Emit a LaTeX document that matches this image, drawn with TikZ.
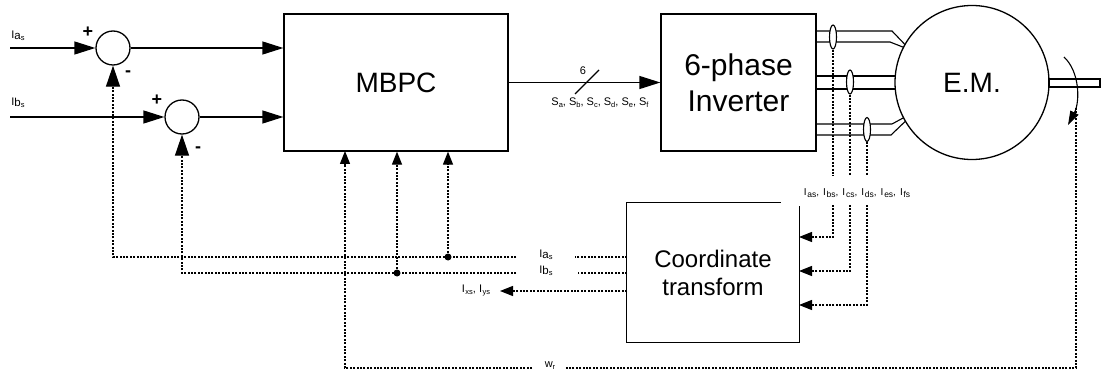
\documentclass[tikz,border=0pt]{standalone}
\usepackage{fontspec}
\setmainfont{Liberation Sans}
\usetikzlibrary{arrows.meta,shapes.geometric}
\newcommand{\subtxt}[1]{\raisebox{-2pt}{\fontsize{7.5}{8}\selectfont #1}}
\newcommand{\csub}[1]{\raisebox{-2pt}{\fontsize{8.5}{9}\selectfont #1}}
\newcommand{\Isub}[1]{I\hspace{0.6pt}\subtxt{#1}}
\newcommand{\Ic}[1]{I\hspace{0.8pt}\csub{#1}}
\newcommand{\Sig}[1]{I\raisebox{-1.5pt}{\fontsize{11.5}{12}\selectfont #1}\raisebox{-2.5pt}{\fontsize{7.5}{8}\selectfont s}}
\newcommand{\sep}{,\hspace{4pt}}
\begin{document}
\begin{tikzpicture}[x=1pt,y=-1pt,
  line width=1.3pt,
  blk/.style={draw, rectangle, inner sep=0pt},
  sumj/.style={draw, circle, minimum size=34pt, inner sep=0pt},
  big/.style={-{Triangle[length=21pt,width=13pt]}},
  sm/.style={-{Triangle[length=13pt,width=10pt]}},
  dotl/.style={dash pattern=on 2pt off 1.4pt, line width=1.2pt},
  lbl/.style={font=\fontsize{11}{13}\selectfont, inner sep=0pt},
  pm/.style={font=\fontsize{18}{18}\selectfont\bfseries, inner sep=0pt},
  junc/.style={circle, fill, inner sep=0pt, minimum size=7pt},
  sens/.style={draw, ellipse, fill=white, inner sep=0pt, minimum width=7pt, minimum height=24pt, line width=1.1pt},
  wire/.style={line width=1.1pt}
]
\useasboundingbox (0,0) rectangle (1102,382);

% blocks
\node[blk, minimum width=224pt, minimum height=137pt, font=\fontsize{28}{32}\selectfont] (mbpc) at (396,82.5) {MBPC};
\node[blk, minimum width=155pt, minimum height=137pt, align=center, font=\fontsize{30}{36}\selectfont] (inv) at (738.5,82.5) {6-phase\\Inverter};
\node[minimum width=172pt, minimum height=139pt, inner sep=0pt, align=center, font=\fontsize{24}{28}\selectfont] (ct) at (713,272.5) {Coordinate\\transform};
\draw ([xshift=-19pt]ct.north east) -- (ct.north west) -- (ct.south west) -- (ct.south east) -- ([yshift=-4pt]ct.north east);

% summing junctions
\node[sumj] (s1) at (113,48) {};
\node[sumj] (s2) at (182,117) {};
\node[pm] (p1) at (88,32) {+};
\node[pm] (m1) at (128,74) {-};
\node[pm] (p2) at (157,100) {+};
\node[pm] (m2) at (198,150) {-};

\coordinate (ina) at (10,48);
\coordinate (inb) at (10,117);
\node[lbl] (la) at (18,36) {\Sig{a}};
\node[lbl] (lb) at (18,103) {\Sig{b}};
\draw[big] (ina) -- (s1);
\draw[big] (inb) -- (s2);
\draw[big] (s1) -- (s1 -| mbpc.west);
\draw[big] (s2) -- (s2 -| mbpc.west);

% MBPC -> inverter
\draw[big] (mbpc.east) -- (inv.west);
\draw[wire] (575,94) -- (599,70);
\node[lbl] (six) at (583,71) {6};
\node[lbl] (slbl) at (600,103) {S\subtxt{a}, S\subtxt{b}, S\subtxt{c}, S\subtxt{d}, S\subtxt{e}, S\subtxt{f}};

% wires
\draw[wire] (816,31) -- (892,31) -- (914,54);
\draw[wire] (816,42) -- (890,42) -- (918,53);
\draw[wire] (816,76) -- (910,76);
\draw[wire] (816,89) -- (910,89);
\draw[wire] (816,124) -- (892,124) -- (916,111);
\draw[wire] (816,135) -- (891,135) -- (914,113);

% motor
\node[draw, circle, minimum size=154pt, inner sep=0pt, fill=white, font=\fontsize{28}{32}\selectfont] (em) at (972,82.5) {E.M.};
\draw[wire] (1049,79) rectangle (1100,87);
\draw[wire, -{Triangle[length=14pt,width=9pt]}] (1064,57) .. controls (1080,72) and (1080,102) .. (1068,125);

% sensors
\node[sens] (cs1) at (833,37) {};
\node[sens] (cs2) at (850,82) {};
\node[sens] (cs3) at (867,129.5) {};
\coordinate (ta) at (833,176);
\coordinate (tb) at (850,176);
\coordinate (tc) at (867,176);
\draw[dotl] (cs1.south) -- (ta);
\draw[dotl] (cs2.south) -- (tb);
\draw[dotl] (cs3.south) -- (tc);
\node[lbl, font=\fontsize{10}{12}\selectfont] (ilbl) at (857,193) {\Ic{as}\sep\Ic{bs}\sep\Ic{cs}\sep\Ic{ds}\sep\Ic{es}\sep\Ic{fs}};
\coordinate (ua) at (833,205);
\coordinate (ub) at (850,205);
\coordinate (uc) at (867,205);
\coordinate (ea) at (799,237);
\coordinate (eb) at (799,271);
\coordinate (ec) at (799,305);
\draw[dotl, sm] (ua) |- (ea);
\draw[dotl, sm] (ub) |- (eb);
\draw[dotl, sm] (uc) |- (ec);

% feedback to summing junctions
\coordinate (ca) at (627,257);
\coordinate (cb) at (627,273);
\coordinate (cx) at (627,291);
\coordinate (ra) at (575,257);
\coordinate (rb) at (578,273);
\coordinate (qa) at (516,257);
\coordinate (qb) at (516,273);
\node[lbl] (lia) at (546,255) {\Sig{a}};
\node[lbl] (lib) at (546,271) {\Sig{b}};
\draw[dotl] (ca) -- (ra);
\draw[dotl] (cb) -- (rb);
\draw[dotl, -{Triangle[length=21pt,width=14pt]}] (qa) -| (s1.south);
\draw[dotl, -{Triangle[length=21pt,width=14pt]}] (qb) -| (s2.south);
\node[junc] (ja) at (448,257) {};
\node[junc] (jb) at (397,273) {};
\draw[dotl, sm] (ja) -- (ja |- mbpc.south);
\draw[dotl, sm] (jb) -- (jb |- mbpc.south);

% Ixs, Iys
\coordinate (ix) at (500,291);
\node[lbl] (ixl) at (476,290) {\Isub{xs}, \Isub{ys}};
\draw[dotl, sm] (cx) -- (ix);

% speed feedback
\coordinate (w1) at (1076,108);
\coordinate (w2) at (565,368);
\coordinate (w3) at (532,368);
\coordinate (mw) at (345,151);
\node[lbl] (wl) at (550,366) {w\subtxt{r}};
\draw[dotl] (w1) |- (w2);
\draw[dotl, sm] (w3) -| (mw);
\end{tikzpicture}
\end{document}
